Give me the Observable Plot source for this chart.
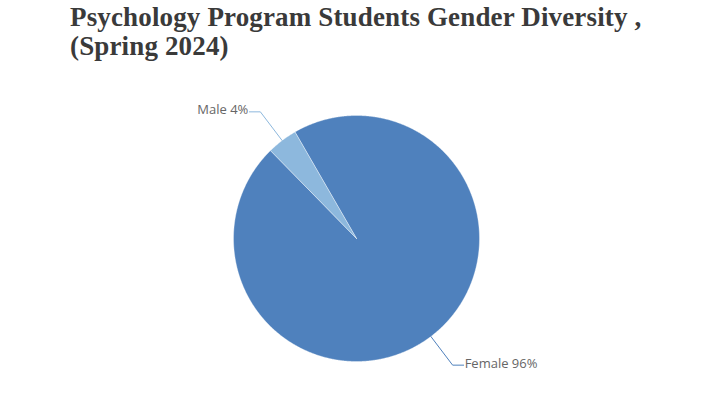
<!DOCTYPE html>
<html>
<head>
<meta charset="utf-8">
<script src="https://cdn.jsdelivr.net/npm/d3@7"></script>
<script src="https://cdn.jsdelivr.net/npm/@observablehq/plot@0.6"></script>
<style>
  html, body { margin: 0; padding: 0; background: #fff; }
  #wrap { width: 712px; height: 404px; position: relative; overflow: hidden; }
  #title {
    position: absolute; left: 70px; top: 0px; width: 640px;
    font-family: "Liberation Serif", "Times New Roman", serif;
    font-weight: bold; font-size: 27px; line-height: 29px; color: #3a3a3a;
    letter-spacing: 0.15px;
    padding-top: 3px;
  }
  #chart { position: absolute; left: 0; top: 80px; }
</style>
</head>
<body>
<div id="wrap">
  <div id="title">Psychology Program Students Gender Diversity ,<br>(Spring 2024)</div>
  <div id="chart"></div>
</div>
<script>
// ---- data ----
const categories = ["Female", "Male"];
const values = [96, 4];
const labels = ["Female 96%", "Male 4%"];
const colors = ["#4f81bd", "#8db8dd"];

// ---- layout constants ----
const W = 712, H = 324;
const R = 123;          // pie radius
const R2 = 159;         // leader elbow radius
const HOOK = 11;        // horizontal leader length
const startAngle = -30 * Math.PI / 180;

const arcs = d3.pie().sort(null).startAngle(startAngle).endAngle(startAngle + 2 * Math.PI)(values);

const pt = (r, a) => ({x: r * Math.sin(a), y: -r * Math.cos(a)});

// slice polygons
const slicePts = [];
arcs.forEach((s, i) => {
  const cat = categories[i];
  slicePts.push({cat, ...pt(0, 0)});
  const n = Math.max(4, Math.ceil((s.endAngle - s.startAngle) / (0.4 * Math.PI / 180)));
  for (let k = 0; k <= n; k++) {
    const a = s.startAngle + (s.endAngle - s.startAngle) * k / n;
    slicePts.push({cat, ...pt(R, a)});
  }
  slicePts.push({cat, ...pt(0, 0)});
});

// leader lines and labels
const leaderPts = [];
const labelData = [];
arcs.forEach((s, i) => {
  const cat = categories[i];
  const mid = (s.startAngle + s.endAngle) / 2;
  const p1 = pt(R, mid), p2 = pt(R2, mid);
  const right = Math.sin(mid) >= 0;
  const p3 = {x: p2.x + (right ? HOOK : -HOOK), y: p2.y};
  leaderPts.push({cat, color: colors[i], ...p1}, {cat, color: colors[i], ...p2}, {cat, color: colors[i], ...p3});
  labelData.push({cat, text: labels[i], right, x: p3.x + (right ? 1 : -1), y: p3.y});
});

const marks = [];
categories.forEach((c, i) => {
  marks.push(Plot.line(slicePts.filter(d => d.cat === c), {
    x: "x", y: "y", fill: colors[i], stroke: "#ffffff", strokeWidth: 0.6, strokeOpacity: 0.6
  }));
});
marks.push(Plot.line(leaderPts, {x: "x", y: "y", z: "cat", stroke: "color", strokeWidth: 1}));
marks.push(Plot.text(labelData.filter(d => d.right), {
  x: "x", y: "y", text: "text", textAnchor: "start", dy: -1,
  fontFamily: "Open Sans", fontSize: 13, fill: "#666666"
}));
marks.push(Plot.text(labelData.filter(d => !d.right), {
  x: "x", y: "y", text: "text", textAnchor: "end", dy: -2,
  fontFamily: "Open Sans", fontSize: 13, fill: "#666666"
}));

const chart = Plot.plot({
  width: W, height: H,
  margin: 0,
  x: {domain: [-356, 356], range: [0, W], axis: null},
  y: {domain: [-158, 166], range: [0, H], axis: null},
  style: {background: "#fff", overflow: "visible"},
  marks
});
document.getElementById("chart").appendChild(chart);
</script>
</body>
</html>
